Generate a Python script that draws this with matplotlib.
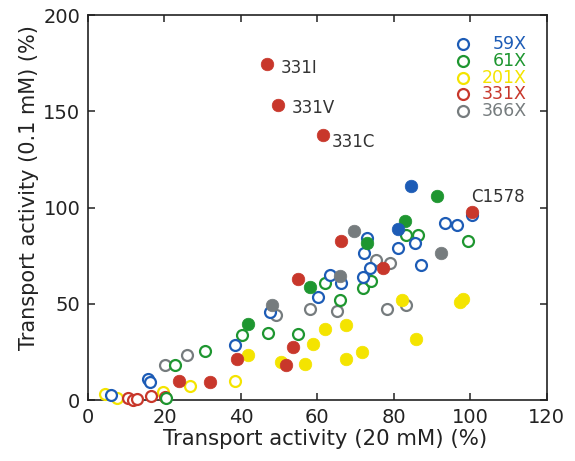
import matplotlib
matplotlib.use("Agg")
import matplotlib.pyplot as plt

plt.rcParams['font.family'] = ['DejaVu Sans']

# series colours
BLUE = '#1d5cb6'
GREEN = '#1e9630'
YELLOW = '#f4e400'
RED = '#c8372b'
GRAY = '#767c7e'

# 59X
blue_open_x = [5.9, 15.8, 16.2, 38.4, 47.6, 60.2, 63.3, 66.3, 72.0, 73.7, 72.2, 73.0, 81.1, 85.5, 87.2, 93.5, 96.5, 100.5]
blue_open_y = [2.8, 11.0, 9.2, 28.6, 46.0, 53.6, 64.8, 60.7, 64.2, 68.6, 76.5, 84.4, 79.0, 81.8, 70.0, 92.0, 90.9, 96.0]
blue_fill_x = [84.5, 81.0]
blue_fill_y = [111.2, 89.0]

# 61X
green_open_x = [20.3, 22.7, 30.6, 40.2, 47.1, 55.0, 62.0, 66.0, 72.0, 74.1, 83.3, 86.2, 99.4]
green_open_y = [1.2, 18.1, 25.4, 33.8, 35.0, 34.6, 60.7, 52.0, 58.5, 62.0, 86.0, 85.6, 82.8]
green_fill_x = [41.9, 58.0, 73.0, 83.0, 91.3]
green_fill_y = [39.8, 59.0, 81.8, 93.0, 106.0]

# 201X
yellow_open_x = [4.4, 7.5, 19.7, 26.7, 38.4]
yellow_open_y = [3.3, 1.0, 4.2, 7.1, 10.0]
yellow_fill_x = [41.9, 50.6, 56.7, 58.9, 62.0, 67.6, 67.6, 71.6, 82.0, 85.9, 97.3, 98.1]
yellow_fill_y = [23.5, 19.8, 19.0, 29.4, 37.2, 39.0, 21.6, 25.0, 52.0, 32.0, 51.2, 52.3]

# 331X
red_open_x = [10.5, 11.8, 12.9, 16.6, 20.1]
red_open_y = [1.0, 0.3, 0.7, 1.9, 1.6]
red_fill_x = [23.8, 31.9, 38.9, 51.9, 53.7, 55.0, 66.3, 77.2, 100.5, 46.7, 49.8, 61.5]
red_fill_y = [9.9, 9.4, 21.2, 18.1, 27.7, 63.0, 82.8, 68.6, 98.0, 174.7, 153.3, 137.6]

# 366X
gray_open_x = [20.1, 25.8, 49.3, 58.0, 65.0, 75.3, 79.0, 78.1, 83.3]
gray_open_y = [18.4, 23.3, 44.2, 47.5, 46.2, 73.0, 71.5, 47.3, 49.2]
gray_fill_x = [48.2, 66.0, 69.5, 92.2]
gray_fill_y = [49.4, 64.5, 87.7, 76.5]

# labelled mutants
label_names = ['331I', '331V', '331C', 'C1578']
label_x = [46.7, 49.8, 61.5, 100.5]
label_y = [174.7, 153.3, 137.6, 98.0]
label_offset = [(10.5, -3), (9.5, -2), (6, -5), (-1, 10.5)]

legend_names = ['59X', '61X', '201X', '331X', '366X']
legend_colours = [BLUE, GREEN, YELLOW, RED, GRAY]

fig = plt.figure(figsize=(5.75, 4.61), dpi=100)
ax = fig.add_axes([0.153, 0.132, 0.798, 0.835])

MS = 62
LW = 1.6

def open_pts(x, y, c):
    ax.scatter(x, y, s=MS, facecolors='white', edgecolors=c, linewidths=LW, clip_on=False, zorder=3)

def fill_pts(x, y, c):
    ax.scatter(x, y, s=MS + 20, color=c, edgecolors=c, linewidths=0.5, clip_on=False, zorder=4)

open_pts(gray_open_x, gray_open_y, GRAY)
open_pts(yellow_open_x, yellow_open_y, YELLOW)
open_pts(red_open_x, red_open_y, RED)
open_pts(green_open_x, green_open_y, GREEN)
open_pts(blue_open_x, blue_open_y, BLUE)
fill_pts(yellow_fill_x, yellow_fill_y, YELLOW)
fill_pts(gray_fill_x, gray_fill_y, GRAY)
fill_pts(green_fill_x, green_fill_y, GREEN)
fill_pts(blue_fill_x, blue_fill_y, BLUE)
fill_pts(red_fill_x, red_fill_y, RED)

for name, x, y, off in zip(label_names, label_x, label_y, label_offset):
    ax.annotate(name, (x, y), xytext=off, textcoords='offset points',
                fontsize=12, color='#333333', va='center', ha='left')

# legend drawn by hand so the names sit right-aligned
for i, (name, c) in enumerate(zip(legend_names, legend_colours)):
    yy = 0.925 - i * 0.0435
    ax.scatter([0.817], [yy], s=MS, facecolors='white', edgecolors=c, linewidths=LW,
               transform=ax.transAxes, zorder=5)
    ax.text(0.956, yy, name, color=c, fontsize=12.5, ha='right', va='center',
            transform=ax.transAxes)

ax.set_xlim(0, 120)
ax.set_ylim(0, 200)
ax.set_xticks([0, 20, 40, 60, 80, 100, 120])
ax.set_yticks([0, 50, 100, 150, 200])
ax.tick_params(direction='in', length=5, width=1.1, top=True, right=True,
               labelsize=14, colors='#222222', pad=5.5)
for sp in ax.spines.values():
    sp.set_linewidth(1.2)
    sp.set_color('#222222')

ax.set_xlabel('Transport activity (20 mM) (%)', fontsize=15.3, color='#222222')
ax.set_ylabel('Transport activity (0.1 mM) (%)', fontsize=15, color='#222222')
ax.xaxis.set_label_coords(0.516, -0.075)
ax.yaxis.set_label_coords(-0.107, 0.552)

fig.savefig('out.png', dpi=100)
